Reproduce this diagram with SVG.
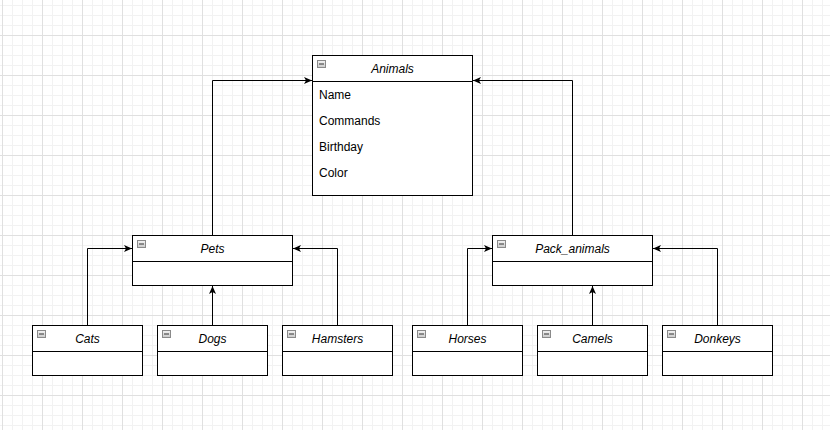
<svg xmlns="http://www.w3.org/2000/svg" width="830" height="430" viewBox="0 0 830 430">
<style>
.box{fill:#fff;stroke:#000;stroke-width:1}
.sep{stroke:#000;stroke-width:1}
.ttl{font-family:"Liberation Sans",Arial,sans-serif;font-size:12px;font-style:italic;text-anchor:middle;fill:#000}
.att{font-family:"Liberation Sans",Arial,sans-serif;font-size:12px;fill:#000}
.ico{fill:url(#icoG);stroke:#8a8a8a;stroke-width:1}
.icm{stroke:#333;stroke-width:1}
.edge{fill:none;stroke:#000;stroke-width:1}
</style>
<defs>
<pattern id="grid" patternUnits="userSpaceOnUse" x="2" y="-5" width="40" height="40">
<path d="M10.5 0V40M20.5 0V40M30.5 0V40M0 10.5H40M0 20.5H40M0 30.5H40" stroke="#f2f2f2" stroke-width="1" fill="none"/>
<path d="M0.5 0V40M0 0.5H40" stroke="#e0e0e0" stroke-width="1" fill="none"/>
</pattern>
<linearGradient id="icoG" x1="0" y1="0" x2="0" y2="1">
<stop offset="0" stop-color="#f4f4f4"/>
<stop offset="1" stop-color="#c8c8c8"/>
</linearGradient>
<marker id="arr" markerUnits="userSpaceOnUse" markerWidth="10" markerHeight="10" refX="8" refY="4" orient="auto">
<path d="M0,0.5 L8,4 L0,7.5 L2,4 Z" fill="#000"/>
</marker>
</defs>
<rect x="0" y="0" width="830" height="430" fill="#fff"/>
<rect x="0" y="0" width="830" height="430" fill="url(#grid)"/>

<g id="connectors">
<path class="edge" d="M212.5 235.5V80.5H312" marker-end="url(#arr)"/>
<path class="edge" d="M572.5 235.5V80.5H473" marker-end="url(#arr)"/>
<path class="edge" d="M87.5 325.5V248.5H132" marker-end="url(#arr)"/>
<path class="edge" d="M212.5 325.5V286" marker-end="url(#arr)"/>
<path class="edge" d="M337.5 325.5V248.5H293" marker-end="url(#arr)"/>
<path class="edge" d="M467.5 325.5V248.5H492" marker-end="url(#arr)"/>
<path class="edge" d="M592.5 325.5V286" marker-end="url(#arr)"/>
<path class="edge" d="M717.5 325.5V248.5H653" marker-end="url(#arr)"/>
</g>

<g id="animals">
<rect class="box" x="312.5" y="55.5" width="160" height="140"/>
<line class="sep" x1="312.5" y1="81.5" x2="472.5" y2="81.5"/>
<rect class="ico" x="317.5" y="60.5" width="8" height="7"/><line class="icm" x1="319" y1="64" x2="324" y2="64"/>
<text class="ttl" x="392.5" y="73">Animals</text>
<text class="att" x="319" y="99">Name</text>
<text class="att" x="319" y="125">Commands</text>
<text class="att" x="319" y="151">Birthday</text>
<text class="att" x="319" y="177">Color</text>
</g>

<g id="pets">
<rect class="box" x="132.5" y="235.5" width="160" height="50"/>
<line class="sep" x1="132.5" y1="261.5" x2="292.5" y2="261.5"/>
<rect class="ico" x="137.5" y="240.5" width="8" height="7"/><line class="icm" x1="139" y1="244" x2="144" y2="244"/>
<text class="ttl" x="212.5" y="253">Pets</text>
</g>

<g id="pack_animals">
<rect class="box" x="492.5" y="235.5" width="160" height="50"/>
<line class="sep" x1="492.5" y1="261.5" x2="652.5" y2="261.5"/>
<rect class="ico" x="497.5" y="240.5" width="8" height="7"/><line class="icm" x1="499" y1="244" x2="504" y2="244"/>
<text class="ttl" x="572.5" y="253">Pack_animals</text>
</g>

<g id="cats">
<rect class="box" x="32.5" y="325.5" width="110" height="50"/>
<line class="sep" x1="32.5" y1="351.5" x2="142.5" y2="351.5"/>
<rect class="ico" x="37.5" y="330.5" width="8" height="7"/><line class="icm" x1="39" y1="334" x2="44" y2="334"/>
<text class="ttl" x="87.5" y="343">Cats</text>
</g>

<g id="dogs">
<rect class="box" x="157.5" y="325.5" width="110" height="50"/>
<line class="sep" x1="157.5" y1="351.5" x2="267.5" y2="351.5"/>
<rect class="ico" x="162.5" y="330.5" width="8" height="7"/><line class="icm" x1="164" y1="334" x2="169" y2="334"/>
<text class="ttl" x="212.5" y="343">Dogs</text>
</g>

<g id="hamsters">
<rect class="box" x="282.5" y="325.5" width="110" height="50"/>
<line class="sep" x1="282.5" y1="351.5" x2="392.5" y2="351.5"/>
<rect class="ico" x="287.5" y="330.5" width="8" height="7"/><line class="icm" x1="289" y1="334" x2="294" y2="334"/>
<text class="ttl" x="337.5" y="343">Hamsters</text>
</g>

<g id="horses">
<rect class="box" x="412.5" y="325.5" width="110" height="50"/>
<line class="sep" x1="412.5" y1="351.5" x2="522.5" y2="351.5"/>
<rect class="ico" x="417.5" y="330.5" width="8" height="7"/><line class="icm" x1="419" y1="334" x2="424" y2="334"/>
<text class="ttl" x="467.5" y="343">Horses</text>
</g>

<g id="camels">
<rect class="box" x="537.5" y="325.5" width="110" height="50"/>
<line class="sep" x1="537.5" y1="351.5" x2="647.5" y2="351.5"/>
<rect class="ico" x="542.5" y="330.5" width="8" height="7"/><line class="icm" x1="544" y1="334" x2="549" y2="334"/>
<text class="ttl" x="592.5" y="343">Camels</text>
</g>

<g id="donkeys">
<rect class="box" x="662.5" y="325.5" width="110" height="50"/>
<line class="sep" x1="662.5" y1="351.5" x2="772.5" y2="351.5"/>
<rect class="ico" x="667.5" y="330.5" width="8" height="7"/><line class="icm" x1="669" y1="334" x2="674" y2="334"/>
<text class="ttl" x="717.5" y="343">Donkeys</text>
</g>
</svg>
